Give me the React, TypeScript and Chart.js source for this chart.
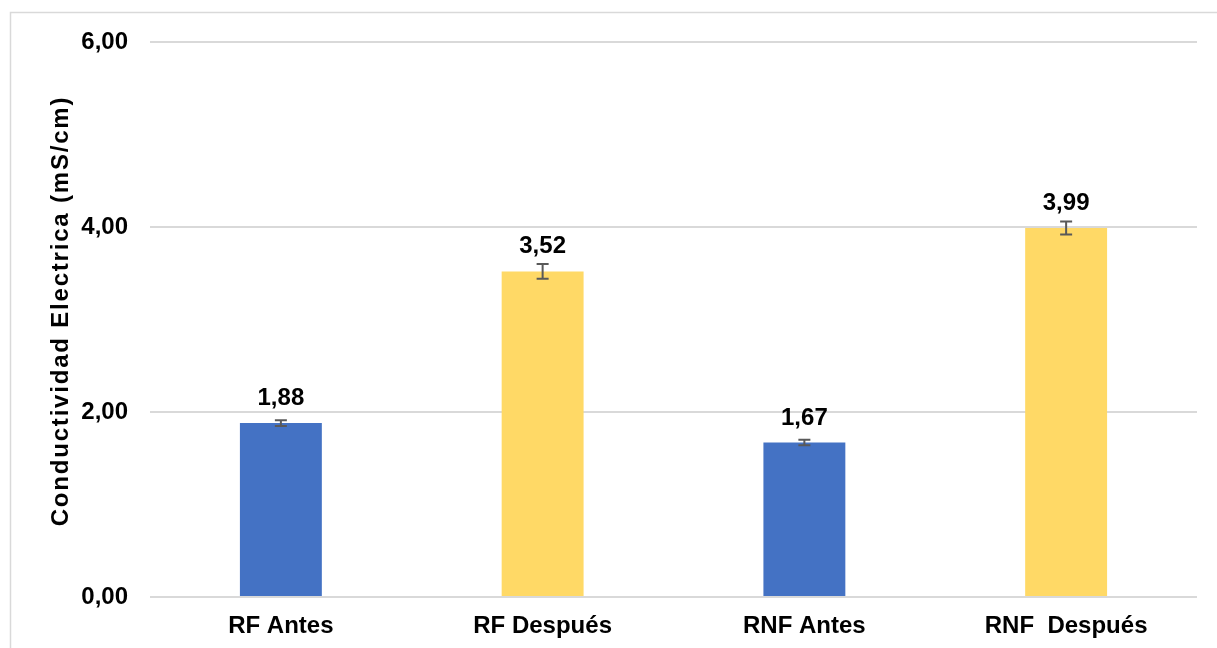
import React, { useEffect, useRef } from "react";
import { Chart, registerables } from "chart.js";

Chart.register(...registerables);

const categories = ["RF Antes", "RF Después", "RNF Antes", "RNF  Después"];
const values = [1.88, 3.52, 1.67, 3.99];
const errors = [0.03, 0.08, 0.03, 0.07];
const barColors = ["#4472C4", "#FFD966", "#4472C4", "#FFD966"];
const yTicks = [0, 2, 4, 6];
const yTitle = "Conductividad Electrica (mS/cm)";

const FONT = "'Liberation Sans', Arial, sans-serif";

const fmt = (v: number) => v.toFixed(2).replace(".", ",");

const extrasPlugin = {
  id: "extras",
  beforeDraw(chart: any) {
    const ctx = chart.ctx;
    ctx.save();
    ctx.strokeStyle = "#d9d9d9";
    ctx.lineWidth = 1.5;
    ctx.strokeRect(10.5, 12.5, chart.width + 20, chart.height + 20);
    // y-axis title
    ctx.translate(61, 311);
    ctx.rotate(-Math.PI / 2);
    ctx.fillStyle = "#000000";
    ctx.font = `bold 24px ${FONT}`;
    try {
      (ctx as any).letterSpacing = "1.8px";
    } catch (e) {}
    ctx.textAlign = "center";
    ctx.textBaseline = "middle";
    ctx.fillText(yTitle, 0, 0);
    ctx.restore();
  },
  afterDatasetsDraw(chart: any) {
    const ctx = chart.ctx;
    const meta = chart.getDatasetMeta(0);
    const yScale = chart.scales.y;
    ctx.save();
    meta.data.forEach((bar: any, i: number) => {
      const x = bar.x;
      const v = values[i];
      const e = errors[i];
      const yTop = yScale.getPixelForValue(v + e);
      const yBot = yScale.getPixelForValue(v - e);
      ctx.strokeStyle = "#595959";
      ctx.lineWidth = 2;
      ctx.beginPath();
      ctx.moveTo(x, yTop);
      ctx.lineTo(x, yBot);
      ctx.moveTo(x - 6, yTop);
      ctx.lineTo(x + 6, yTop);
      ctx.moveTo(x - 6, yBot);
      ctx.lineTo(x + 6, yBot);
      ctx.stroke();
      ctx.fillStyle = "#000000";
      ctx.font = `bold 24px ${FONT}`;
      ctx.textAlign = "center";
      ctx.textBaseline = "alphabetic";
      ctx.fillText(fmt(v), x, yScale.getPixelForValue(v) - 18);
    });
    ctx.restore();
  },
};

export default function App() {
  const ref = useRef<HTMLCanvasElement>(null);
  useEffect(() => {
    document.body.style.margin = "0";
    const canvas = ref.current!;
    const chart = new Chart(canvas, {
      type: "bar",
      data: {
        labels: categories,
        datasets: [
          {
            data: values,
            backgroundColor: barColors,
            borderWidth: 0,
            barPercentage: 0.313,
            categoryPercentage: 1,
          },
        ],
      },
      options: {
        animation: false,
        responsive: false,
        maintainAspectRatio: false,
        layout: { padding: { left: 0, top: 42, right: 20, bottom: 0 } },
        plugins: {
          legend: { display: false },
          tooltip: { enabled: false },
        },
        scales: {
          x: {
            grid: { display: false, drawTicks: false },
            border: { display: false },
            ticks: {
              color: "#000000",
              font: { family: FONT, size: 24, weight: "bold" },
              padding: 15,
              maxRotation: 0,
              autoSkip: false,
            },
            afterFit: (s: any) => {
              s.height = 51;
            },
          },
          y: {
            min: 0,
            max: 6,
            afterBuildTicks: (s: any) => {
              s.ticks = yTicks.map((v) => ({ value: v }));
            },
            grid: { color: "#d9d9d9", lineWidth: 2, drawTicks: false },
            border: { display: false },
            ticks: {
              color: "#000000",
              font: { family: FONT, size: 24, weight: "bold" },
              padding: 22,
              callback: (v: any) => fmt(Number(v)),
            },
            title: { display: false },
            afterFit: (s: any) => {
              s.width = 150;
            },
          },
        },
      },
      plugins: [extrasPlugin],
    });
    return () => chart.destroy();
  }, []);
  return <canvas ref={ref} width={1217} height={648} style={{ display: "block" }} />;
}
